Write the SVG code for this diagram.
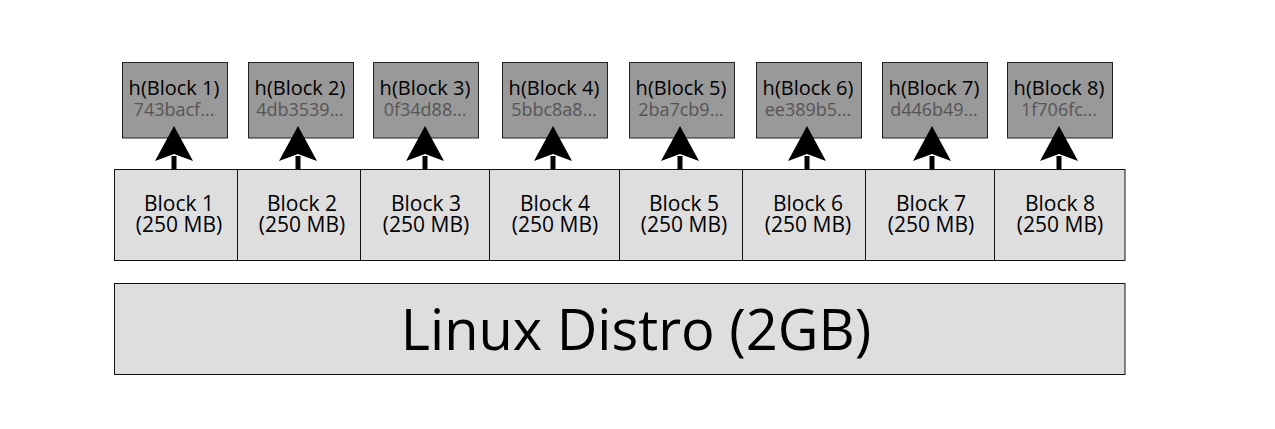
<svg xmlns="http://www.w3.org/2000/svg" xmlns:xlink="http://www.w3.org/1999/xlink" width="1275" height="429" viewBox="0 0 1275 429">
<defs>
<style>
.hash{fill:#999999;stroke:#222;stroke-width:1}
.blk{fill:#dedede;stroke:#111;stroke-width:1}
.t{font-family:"Open Sans","DejaVu Sans",sans-serif;text-anchor:middle;fill:#000}
.ht{font-size:20px}
.hv{font-size:18px;fill:#555}
.bt{font-size:21px}
.big{font-size:56px}
.conn{stroke:#000;stroke-width:5;fill:none}
.head{fill:#000}
</style>
<path id="ah" d="M0,-29 L19,6 L0,-1 L-19,6 Z"/>
</defs>
<rect width="1275" height="429" fill="#fff"/>
<g id="linux">
<rect class="blk" x="114.5" y="283.5" width="1010.5" height="91"/>
<text class="t big" x="636" y="350">Linux Distro (2GB)</text>
</g>
<g id="block1"><rect class="blk" x="114.5" y="169.5" width="123" height="91"/><text class="t bt" x="179" y="211">Block 1</text><text class="t bt" x="179" y="232">(250 MB)</text></g>
<g id="block2"><rect class="blk" x="237.5" y="169.5" width="123" height="91"/><text class="t bt" x="302" y="211">Block 2</text><text class="t bt" x="302" y="232">(250 MB)</text></g>
<g id="block3"><rect class="blk" x="360.5" y="169.5" width="129" height="91"/><text class="t bt" x="426" y="211">Block 3</text><text class="t bt" x="426" y="232">(250 MB)</text></g>
<g id="block4"><rect class="blk" x="489.5" y="169.5" width="130" height="91"/><text class="t bt" x="555" y="211">Block 4</text><text class="t bt" x="555" y="232">(250 MB)</text></g>
<g id="block5"><rect class="blk" x="619.5" y="169.5" width="123" height="91"/><text class="t bt" x="684" y="211">Block 5</text><text class="t bt" x="684" y="232">(250 MB)</text></g>
<g id="block6"><rect class="blk" x="742.5" y="169.5" width="123" height="91"/><text class="t bt" x="808" y="211">Block 6</text><text class="t bt" x="808" y="232">(250 MB)</text></g>
<g id="block7"><rect class="blk" x="865.5" y="169.5" width="129" height="91"/><text class="t bt" x="931" y="211">Block 7</text><text class="t bt" x="931" y="232">(250 MB)</text></g>
<g id="block8"><rect class="blk" x="994.5" y="169.5" width="130.5" height="91"/><text class="t bt" x="1060" y="211">Block 8</text><text class="t bt" x="1060" y="232">(250 MB)</text></g>
<g id="hash1"><rect class="hash" x="122.5" y="62.5" width="105" height="75.5"/><text class="t ht" x="174" y="95">h(Block 1)</text><text class="t hv" x="174" y="116">743bacf...</text></g>
<g id="hash2"><rect class="hash" x="248.5" y="62.5" width="105" height="75.5"/><text class="t ht" x="300" y="95">h(Block 2)</text><text class="t hv" x="300" y="116">4db3539...</text></g>
<g id="hash3"><rect class="hash" x="373.5" y="62.5" width="105" height="75.5"/><text class="t ht" x="425" y="95">h(Block 3)</text><text class="t hv" x="425" y="116">0f34d88...</text></g>
<g id="hash4"><rect class="hash" x="502.5" y="62.5" width="105" height="75.5"/><text class="t ht" x="554" y="95">h(Block 4)</text><text class="t hv" x="554" y="116">5bbc8a8...</text></g>
<g id="hash5"><rect class="hash" x="629.5" y="62.5" width="105" height="75.5"/><text class="t ht" x="681" y="95">h(Block 5)</text><text class="t hv" x="681" y="116">2ba7cb9...</text></g>
<g id="hash6"><rect class="hash" x="756.5" y="62.5" width="105" height="75.5"/><text class="t ht" x="808" y="95">h(Block 6)</text><text class="t hv" x="808" y="116">ee389b5...</text></g>
<g id="hash7"><rect class="hash" x="882.5" y="62.5" width="105" height="75.5"/><text class="t ht" x="934" y="95">h(Block 7)</text><text class="t hv" x="934" y="116">d446b49...</text></g>
<g id="hash8"><rect class="hash" x="1007.5" y="62.5" width="105" height="75.5"/><text class="t ht" x="1059" y="95">h(Block 8)</text><text class="t hv" x="1059" y="116">1f706fc...</text></g>
<g id="connectors">
<path class="conn" d="M174,169 V156"/><use class="head" href="#ah" xlink:href="#ah" x="174" y="155"/>
<path class="conn" d="M298,169 V156"/><use class="head" href="#ah" xlink:href="#ah" x="298" y="155"/>
<path class="conn" d="M425,169 V156"/><use class="head" href="#ah" xlink:href="#ah" x="425" y="155"/>
<path class="conn" d="M553,169 V156"/><use class="head" href="#ah" xlink:href="#ah" x="553" y="155"/>
<path class="conn" d="M680,169 V156"/><use class="head" href="#ah" xlink:href="#ah" x="680" y="155"/>
<path class="conn" d="M807,169 V156"/><use class="head" href="#ah" xlink:href="#ah" x="807" y="155"/>
<path class="conn" d="M932,169 V156"/><use class="head" href="#ah" xlink:href="#ah" x="932" y="155"/>
<path class="conn" d="M1059,169 V156"/><use class="head" href="#ah" xlink:href="#ah" x="1059" y="155"/>
</g>
</svg>
